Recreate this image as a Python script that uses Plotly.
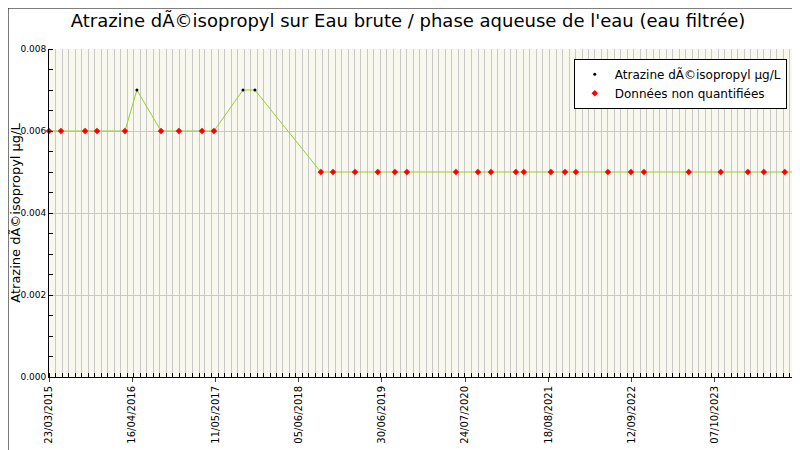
import plotly.graph_objects as go

dates = ["2015-03-23","2015-05-18","2015-09-08","2015-11-03","2016-03-13","2016-05-08","2016-08-29",
         "2016-11-21","2017-03-09","2017-05-04","2017-09-17","2017-11-12","2018-09-17","2018-11-13",
         "2019-02-24","2019-06-11","2019-08-30","2019-10-25","2020-06-11","2020-09-22","2020-11-22",
         "2021-03-19","2021-04-25","2021-08-30","2021-11-04","2021-12-25","2022-05-24","2022-09-09",
         "2022-11-09","2023-06-07","2023-11-04","2024-03-10","2024-05-24","2024-08-30","2024-10-31"]
values = [0.006,0.006,0.006,0.006,0.006,0.007,0.006,0.006,0.006,0.006,0.007,0.007,0.005,0.005,
          0.005,0.005,0.005,0.005,0.005,0.005,0.005,0.005,0.005,0.005,0.005,0.005,0.005,0.005,
          0.005,0.005,0.005,0.005,0.005,0.005,0.005]
quantified = [False,False,False,False,False,True,False,False,False,False,True,True] + [False]*23
tick_dates = ["2015-03-23","2016-04-16","2017-05-11","2018-06-05","2019-06-30","2020-07-24",
              "2021-08-18","2022-09-12","2023-10-07","2024-10-31"]
tick_labels = ["23/03/2015","16/04/2016","11/05/2017","05/06/2018","30/06/2019","24/07/2020",
               "18/08/2021","12/09/2022","07/10/2023","31/10/2024"]
name_q = "Atrazine dÃ©isopropyl µg/L"
name_nq = "Données non quantifiées"

fig = go.Figure()
fig.add_trace(go.Scatter(x=dates, y=values, mode="lines", line=dict(color="#9acd32", width=1),
                         showlegend=False, hoverinfo="skip", cliponaxis=False))
fig.add_trace(go.Scatter(x=[d for d, q in zip(dates, quantified) if q],
                         y=[v for v, q in zip(values, quantified) if q],
                         mode="markers", name=name_q, marker=dict(color="black", size=3), cliponaxis=False))
fig.add_trace(go.Scatter(x=[d for d, q in zip(dates, quantified) if not q],
                         y=[v for v, q in zip(values, quantified) if not q],
                         mode="markers", name=name_nq, cliponaxis=False,
                         marker=dict(color="red", size=5, symbol="diamond")))
fig.update_layout(
    width=800, height=450, margin=dict(l=41, r=10, t=41, b=81, autoexpand=False),
    paper_bgcolor="white", plot_bgcolor="#f8f8ee",
    font=dict(family="DejaVu Sans", size=12, color="black"),
    title=dict(text="Atrazine dÃ©isopropyl sur Eau brute / phase aqueuse de l'eau (eau filtrée)",
               x=0.5, xanchor="center", y=0.985, yanchor="top", font=dict(size=18)),
    legend=dict(x=0.985, y=0.97, xanchor="right", yanchor="top", bgcolor="white",
                bordercolor="black", borderwidth=1, font=dict(size=12), tracegroupgap=0),
    shapes=[dict(type="rect", xref="paper", yref="paper", x0=-0.0547, x1=1.012, y0=-0.244, y1=1.125,
                 line=dict(color="black", width=1))],
)
fig.update_xaxes(range=["2015-03-23", "2024-10-31"], tickvals=tick_dates, ticktext=tick_labels,
                 tickangle=-90, tickfont=dict(size=10), showgrid=False, showline=True, automargin=False,
                 linecolor="black", ticks="outside", ticklen=4,
                 minor=dict(dtick="M1", tick0="2015-03-23", showgrid=True, gridcolor="#c8c8c8",
                            ticks="inside", ticklen=4, tickcolor="black"))
fig.update_yaxes(range=[0, 0.008], tickvals=[0, 0.002, 0.004, 0.006, 0.008], tickformat=".3f",
                 tickfont=dict(size=9), showgrid=True, gridcolor="#c8c8c8", showline=True, automargin=False,
                 linecolor="black", ticks="", zeroline=False,
                 title=dict(text=name_q, standoff=0, font=dict(size=13)),
                 minor=dict(dtick=0.0005, ticks="inside", ticklen=4, tickcolor="black", showgrid=False))
fig.write_html("out.html")
